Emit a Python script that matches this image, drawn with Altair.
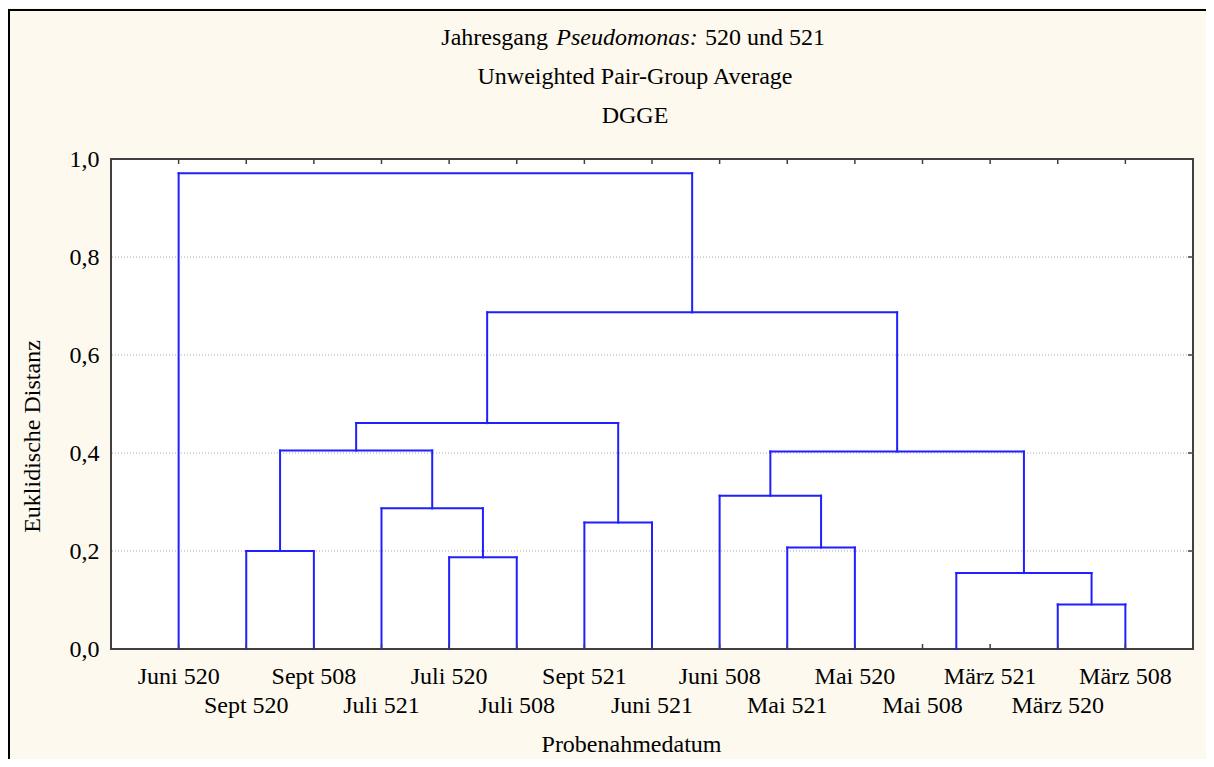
import altair as alt
import pandas as pd

# ---------------- data ----------------
leaves = ["Juni 520", "Sept 520", "Sept 508", "Juli 521", "Juli 520", "Juli 508",
          "Sept 521", "Juni 521", "Juni 508", "Mai 521", "Mai 520", "Mai 508",
          "März 521", "März 520", "März 508"]
# merges: node ids 0..14 are leaves, merge k creates node 15+k
merge_left = [4, 1, 3, 6, 16, 19, 11, 13, 9, 21, 8, 25, 20, 0]
merge_right = [5, 2, 15, 7, 17, 18, 12, 14, 10, 22, 23, 24, 26, 27]
merge_height = [0.187, 0.200, 0.287, 0.258, 0.405, 0.461, 0.0, 0.091,
                0.207, 0.155, 0.313, 0.403, 0.687, 0.971]
y_ticks = [0.0, 0.2, 0.4, 0.6, 0.8, 1.0]
grid_vals = [0.2, 0.4, 0.6, 0.8]
title_1a = "Jahresgang"
title_1b = "Pseudomonas:"
title_1c = "520 und 521"
title_2 = "Unweighted Pair-Group Average"
title_3 = "DGGE"

# ------------- build dendrogram segments -------------
node_x = [i + 1 for i in range(len(leaves))]
node_h = [0.0] * len(leaves)
segs = []
for a, b, h in zip(merge_left, merge_right, merge_height):
    xa, xb = node_x[a], node_x[b]
    segs.append({"x": xa, "x2": xa, "y": node_h[a], "y2": h})
    segs.append({"x": xb, "x2": xb, "y": node_h[b], "y2": h})
    segs.append({"x": xa, "x2": xb, "y": h, "y2": h})
    node_x.append((xa + xb) / 2)
    node_h.append(h)
seg_df = pd.DataFrame(segs)
seg_df = seg_df[(seg_df["x"] != seg_df["x2"]) | (seg_df["y"] != seg_df["y2"])]
seg_df = seg_df[~((seg_df["y"] == 0) & (seg_df["y2"] == 0))]

leaf_df = pd.DataFrame({"name": leaves, "pos": list(range(1, len(leaves) + 1))})
leaf_df["row"] = [i % 2 for i in range(len(leaves))]
grid_df = pd.DataFrame({"v": grid_vals})

W, H = 1082, 490
FONT = "Liberation Serif"
FS = 24
BLUE = "#1f1fff"
AX = "#404040"

xscale = alt.Scale(domain=[0, 16], nice=False, zero=False)
yscale = alt.Scale(domain=[0, 1], nice=False, zero=False)

x_axis = alt.Axis(values=list(range(1, 16)), labels=False, ticks=False, domain=False,
                  grid=False, title="Probenahmedatum", titleFont=FONT,
                  titleFontSize=FS, titleFontWeight="normal", titleColor="black",
                  titleX=520, titleY=95, titleAlign="center", titleBaseline="middle")
y_axis = alt.Axis(values=y_ticks, labelExpr="replace(format(datum.value, '.1f'), '.', ',')",
                  labelFont=FONT, labelFontSize=FS, labelColor="black", labelPadding=12,
                  ticks=False, domain=False, grid=False,
                  title="Euklidische Distanz", titleFont=FONT, titleFontSize=FS,
                  titleFontWeight="normal", titleColor="black",
                  titleX=-79, titleY=277, titleAlign="center", titleBaseline="middle",
                  titleAngle=270)

grid = alt.Chart(grid_df).mark_rule(color="#a8a8a8", strokeWidth=1, strokeDash=[1, 2]).encode(
    y=alt.Y("v:Q", scale=yscale, axis=y_axis)
)

dend = alt.Chart(seg_df).mark_rule(color=BLUE, strokeWidth=2, strokeCap="square").encode(
    x=alt.X("x:Q", scale=xscale, axis=x_axis),
    x2="x2:Q",
    y=alt.Y("y:Q", scale=yscale),
    y2="y2:Q",
)

bottom_ticks = alt.Chart(leaf_df).mark_rule(color=AX, strokeWidth=1.5).encode(
    x=alt.X("pos:Q", scale=xscale), y=alt.value(H), y2=alt.value(H - 5)
)
top_ticks = alt.Chart(leaf_df).mark_rule(color=AX, strokeWidth=1.5).encode(
    x=alt.X("pos:Q", scale=xscale), y=alt.value(0), y2=alt.value(5)
)
right_ticks = alt.Chart(grid_df).mark_rule(color=AX, strokeWidth=1.5).encode(
    y=alt.Y("v:Q", scale=yscale), x=alt.value(W), x2=alt.value(W - 5)
)

labels_row1 = alt.Chart(leaf_df).transform_filter("datum.row == 0").mark_text(
    font=FONT, fontSize=FS, color="black", align="center", baseline="middle"
).encode(x=alt.X("pos:Q", scale=xscale), y=alt.value(H + 28), text="name:N")
labels_row2 = alt.Chart(leaf_df).transform_filter("datum.row == 1").mark_text(
    font=FONT, fontSize=FS, color="black", align="center", baseline="middle"
).encode(x=alt.X("pos:Q", scale=xscale), y=alt.value(H + 57), text="name:N")


def txt(s, x, y, align="center", italic=False):
    kw = dict(font=FONT, fontSize=FS, color="black", align=align, baseline="middle")
    if italic:
        kw["fontStyle"] = "italic"
    return alt.Chart(pd.DataFrame({"t": [s]})).mark_text(**kw).encode(
        x=alt.value(x), y=alt.value(y), text="t:N"
    )


title_parts = [
    txt(title_1a, 437, -121, align="right"),
    txt(title_1b, 516, -121, align="center", italic=True),
    txt(title_1c, 594, -121, align="left"),
    txt(title_2, 524, -82),
    txt(title_3, 524, -43),
]

one = pd.DataFrame({"k": [0]})
frame_top = alt.Chart(one).mark_rule(color="black", strokeWidth=2).encode(
    x=alt.value(-103), x2=alt.value(W + 20), y=alt.value(-149)
)
frame_left = alt.Chart(one).mark_rule(color="black", strokeWidth=2).encode(
    x=alt.value(-102), y=alt.value(-150), y2=alt.value(H + 120)
)

chart = alt.layer(
    grid, dend, bottom_ticks, top_ticks, right_ticks, labels_row1, labels_row2,
    *title_parts, frame_top, frame_left
).properties(
    width=W, height=H,
    autosize=alt.AutoSizeParams(type="none"),
    padding={"left": 103, "top": 151, "right": 13, "bottom": 110},
    background="#fdf9ee",
).configure_view(
    stroke=AX, strokeWidth=2, fill="white"
)

chart.save("out.html", embed_options={"renderer": "svg", "actions": False})
